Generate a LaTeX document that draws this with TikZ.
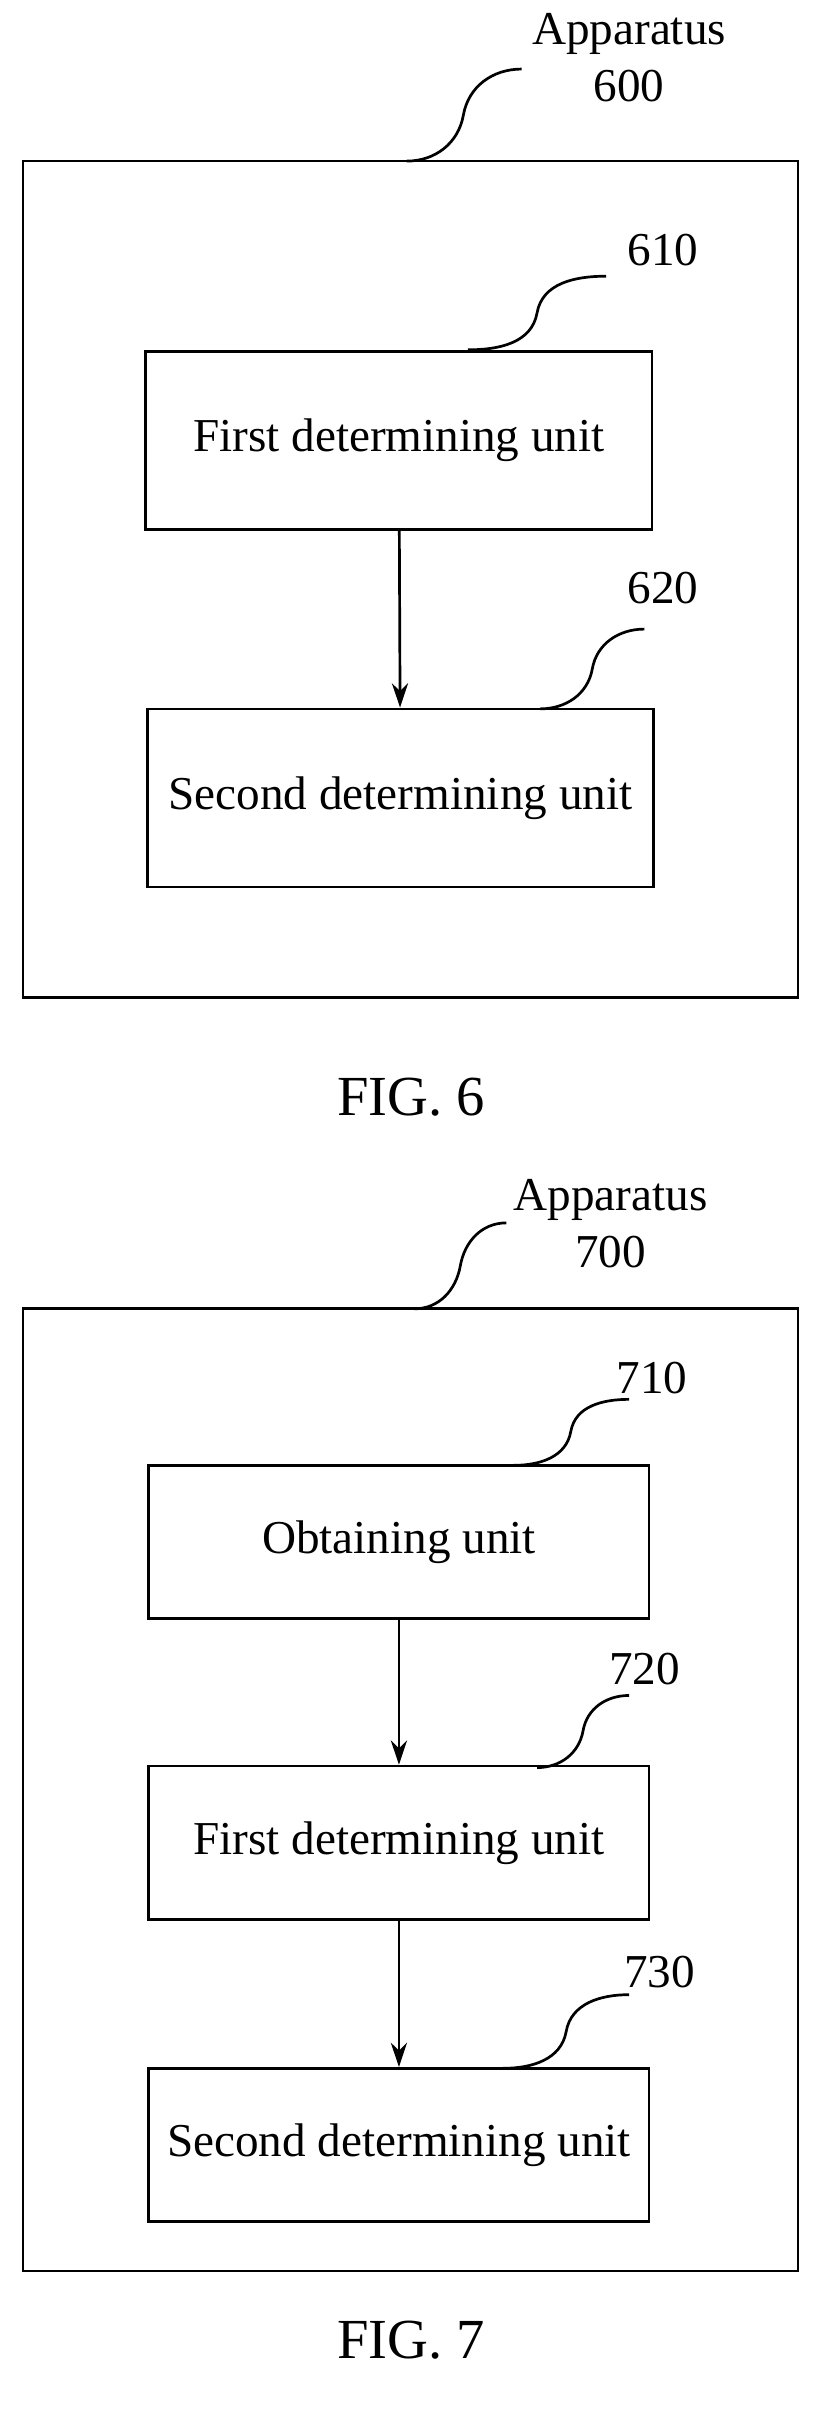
\documentclass[tikz,border=0pt]{standalone}
\usepackage{fontspec}
\setmainfont{Liberation Serif}
\usepackage{tikz}
\usetikzlibrary{arrows.meta}
\usetikzlibrary{positioning}

\begin{document}
\begin{tikzpicture}[x=0.02cm,y=-0.02cm,font=\fontsize{17.5}{21}\selectfont,line width=1pt]
		\useasboundingbox (0,0) rectangle (535,1572);
		\tikzset{unit/.style={draw,minimum width=330*0.02cm,minimum height=116*0.02cm},
		         wave/.style={}}

		% FIG. 6
		\draw (15,105) rectangle (520,650);
		\node[unit] (610) at (260,287) {First determining unit};
		\node[unit] (620) at (261,520) {Second determining unit};
		\node (l600) at (410,40) {\begin{tabular}{c}Apparatus\\600\end{tabular}};
		\node (l610) at (432,163) {610};
		\node (l620) at (432,383) {620};
		\node (f6) at (268,715) {\fontsize{21}{24}\selectfont FIG. 6};

		\begin{scope}[>={Stealth[black,length=9pt,width=6pt]}]
			\draw[->] (610) -- (620);
		\end{scope}
		\draw[wave] (265,105) to[out=0,in=-100] (302,75) to[out=80,in=180] (340,45);
		\draw[wave] (305,228) to[out=0,in=-100] (350,204) to[out=80,in=180] (395,180);
		\draw[wave] (352,462) to[out=0,in=-100] (386,436) to[out=80,in=180] (420,410);

		% FIG. 7
		\tikzset{unit/.append style={minimum height=100*0.02cm}}
		\draw (15,853) rectangle (520,1480);
		\node[unit,minimum width=326*0.02cm] (710) at (260,1005) {Obtaining unit};
		\node[unit,minimum width=326*0.02cm] (720) at (260,1201) {First determining unit};
		\node[unit,minimum width=326*0.02cm] (730) at (260,1398) {Second determining unit};
		\node (l700) at (398,800) {\begin{tabular}{c}Apparatus\\700\end{tabular}};
		\node (l710) at (425,898) {710};
		\node (l720) at (420,1088) {720};
		\node (l730) at (430,1285) {730};
		\node (f7) at (268,1525) {\fontsize{21}{24}\selectfont FIG. 7};

		\begin{scope}[>={Stealth[black,length=9pt,width=6pt]}]
			\draw[->] (710) -- (720);
			\draw[->] (720) -- (730);
		\end{scope}
		\draw[wave] (270,853) to[out=0,in=-100] (300,825) to[out=80,in=180] (330,797);
		\draw[wave] (335,955) to[out=0,in=-100] (372,933) to[out=80,in=180] (410,912);
		\draw[wave] (350,1152) to[out=0,in=-100] (380,1128) to[out=80,in=180] (410,1105);
		\draw[wave] (328,1348) to[out=0,in=-100] (369,1324) to[out=80,in=180] (410,1300);
\end{tikzpicture}
\end{document}
